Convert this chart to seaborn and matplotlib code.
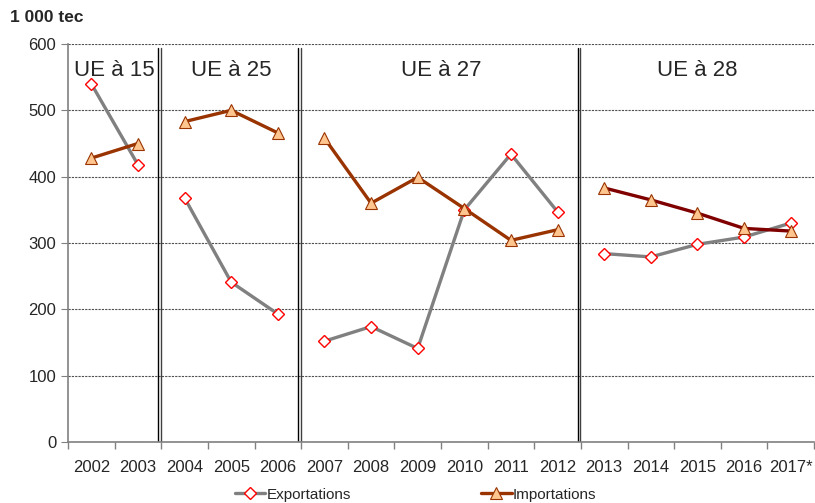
import numpy as np
import pandas as pd
import matplotlib
matplotlib.use("Agg")
import matplotlib.pyplot as plt
import seaborn as sns
from matplotlib.lines import Line2D

# data (1 000 tec)
years = ["2002", "2003", "2004", "2005", "2006", "2007", "2008", "2009",
         "2010", "2011", "2012", "2013", "2014", "2015", "2016", "2017*"]
exportations = [540, 418, 368, 241, 193, 152, 174, 141,
                350, 434, 347, 284, 279, 298, 309, 330]
importations = [428, 450, 483, 500, 466, 458, 360, 399,
                352, 304, 320, 383, 365, 345, 322, 318]
eras = ["UE à 15"] * 2 + ["UE à 25"] * 3 + ["UE à 27"] * 6 + ["UE à 28"] * 5
era_names = ["UE à 15", "UE à 25", "UE à 27", "UE à 28"]

sns.set_style("white")
plt.rcParams["font.family"] = ["Liberation Sans", "DejaVu Sans"]

df = pd.DataFrame({"idx": np.arange(len(years)), "year": years,
                   "Exportations": exportations, "Importations": importations,
                   "era": eras})

fig = plt.figure(figsize=(8.15, 5.03), dpi=100)
ax = fig.add_axes([68 / 815, 61 / 503, 746 / 815, 398 / 503])

exp_col = "#808080"
imp_col = "#993300"
imp_col_28 = "#800000"

for era in era_names:
    sub = df[df["era"] == era]
    sns.lineplot(data=sub, x="idx", y="Exportations", ax=ax, color=exp_col,
                 linewidth=2.4, marker="D", markersize=6, markerfacecolor="white",
                 markeredgecolor="red", markeredgewidth=1.0, zorder=3)
    sns.lineplot(data=sub, x="idx", y="Importations", ax=ax,
                 color=imp_col_28 if era == "UE à 28" else imp_col,
                 linewidth=2.4, marker="^", markersize=8, markerfacecolor="#FFC58F",
                 markeredgecolor=imp_col, markeredgewidth=0.8, zorder=4)

ax.set_xlim(-0.5, len(years) - 0.5)
ax.set_ylim(0, 600)
ax.set_yticks(range(0, 601, 100))
ax.set_xticks(df["idx"])
ax.set_xticklabels(years)
ax.set_xticks(np.arange(-0.5, len(years), 1.0), minor=True)
ax.tick_params(axis="x", which="major", length=0, labelsize=12, pad=13)
ax.tick_params(axis="x", which="minor", length=5, width=1, color="#808080",
               direction="out", bottom=True)
ax.tick_params(axis="y", labelsize=12, length=5, color="#808080", left=True)
ax.set_xlabel("")
ax.set_ylabel("")

ax.grid(axis="y", linestyle=(0, (2, 1)), color="#505050", linewidth=0.8)
ax.set_axisbelow(True)
for side in ["top", "right"]:
    ax.spines[side].set_visible(False)
for side in ["left", "bottom"]:
    ax.spines[side].set_color("#808080")
    ax.spines[side].set_linewidth(1.2)

# era separators (double lines)
bounds = [1.5, 4.5, 10.5]
for b in bounds:
    ax.axvline(b - 0.07, ymin=0, ymax=0.99, color="black", linewidth=1.0, zorder=2)
    ax.axvline(b - 0.01, ymin=0, ymax=0.99, color="#404040", linewidth=1.0, zorder=2)

# era labels
starts = [-0.5] + bounds
ends = bounds + [len(years) - 0.5]
for name, s, e in zip(era_names, starts, ends):
    ax.text((s + e) / 2, 560, name, ha="center", va="center", fontsize=16)

fig.text(10 / 815, 1 - 18 / 503, "1 000 tec", fontsize=12.5, fontweight="bold",
         ha="left", va="center")

handles = [
    Line2D([], [], color=exp_col, linewidth=2.4, marker="D", markersize=6,
           markerfacecolor="white", markeredgecolor="red"),
    Line2D([], [], color=imp_col, linewidth=2.4, marker="^", markersize=8,
           markerfacecolor="#FFC58F", markeredgecolor=imp_col, markeredgewidth=0.8),
]
fig.legend(handles, ["Exportations", "Importations"], loc="lower center",
           bbox_to_anchor=(0.51, -0.025), ncol=2, frameon=False, fontsize=11,
           handlelength=2.0, handletextpad=0.1, columnspacing=8.5)

fig.savefig("out.png", dpi=100)
